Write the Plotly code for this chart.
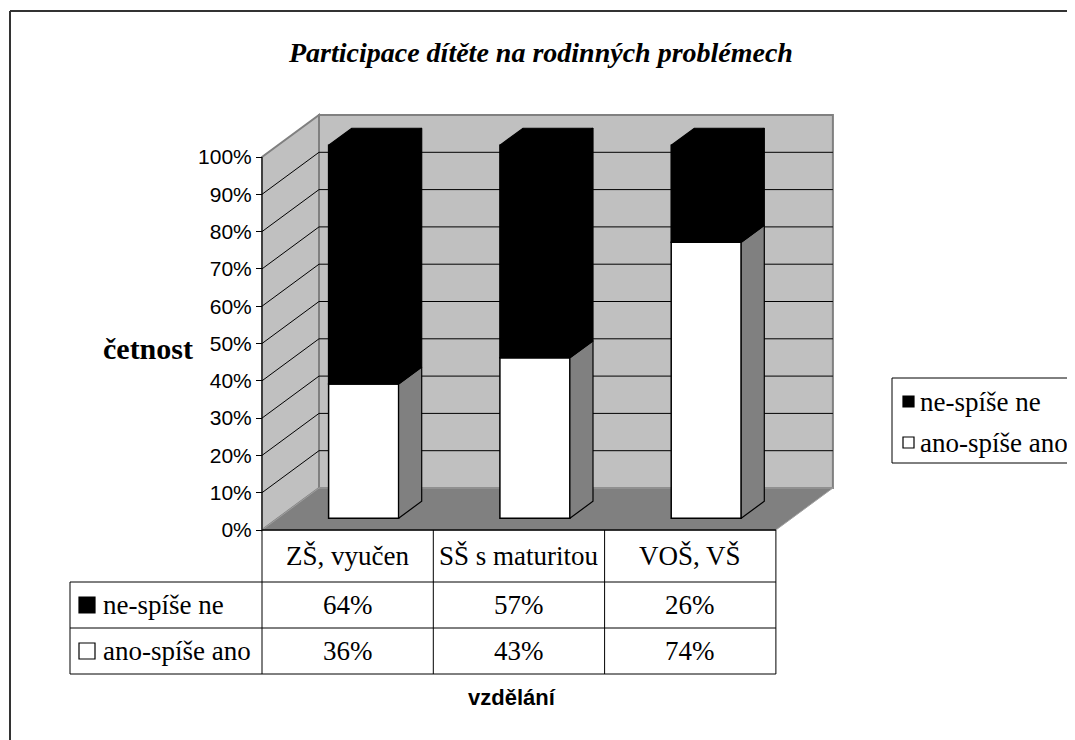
import plotly.graph_objects as go

# data
categories = ["ZŠ, vyučen", "SŠ s maturitou", "VOŠ, VŠ"]
ne_spise_ne = [64, 57, 26]
ano_spise_ano = [36, 43, 74]
series_names = ["ne-spíše ne", "ano-spíše ano"]
series_colors = ["black", "white"]
y_ticks = [0, 10, 20, 30, 40, 50, 60, 70, 80, 90, 100]
y_tick_text = ["0%", "10%", "20%", "30%", "40%", "50%", "60%", "70%", "80%", "90%", "100%"]

W, H = 1075, 740
OFF = 8  # the page body margin shifts the figure by 8px

# pixel frame of the front plane (0 % line, category width), in screenshot pixels
X0_PX, CAT_PX = 262, 171.3
Y0_PX, PCT_PX = 530, 3.73

x_range = [(OFF - X0_PX) / CAT_PX, (OFF + W - X0_PX) / CAT_PX]
y_range = [(Y0_PX - OFF - H) / PCT_PX, (Y0_PX - OFF) / PCT_PX]


def dx(px):
    return (px - X0_PX) / CAT_PX


def dy(px):
    return (Y0_PX - px) / PCT_PX


def rx(px):
    return (px - OFF) / W


def ry(px):
    return 1 - (px - OFF) / H


# 3D depth of the floor/walls, and where the bars sit in that depth
DX = 57 / CAT_PX
DY = 42 / PCT_PX
F0, F1 = 0.28, 0.685
BAR_W = 70 / CAT_PX
n = len(categories)

SERIF = "Liberation Serif"
SANS = "Liberation Sans"
EDGE = "#808080"

fig = go.Figure()

x_front = [i + 0.5 + F0 * DX for i in range(n)]
base_ano = [F0 * DY] * n
base_ne = [F0 * DY + a for a in ano_spise_ano]

fig.add_trace(go.Bar(
    x=x_front, y=ano_spise_ano, base=base_ano, width=BAR_W,
    marker=dict(color="white", line=dict(color="black", width=1.5)),
    name=series_names[1], hoverinfo="skip",
))
fig.add_trace(go.Bar(
    x=x_front, y=ne_spise_ne, base=base_ne, width=BAR_W,
    marker=dict(color="black", line=dict(color="black", width=1.5)),
    name=series_names[0], hoverinfo="skip",
))

# side and top faces of the bars
ddx = (F1 - F0) * DX
ddy = (F1 - F0) * DY


def face(xs, ys, fill):
    fig.add_trace(go.Scatter(
        x=xs + [xs[0]], y=ys + [ys[0]], mode="lines", fill="toself",
        fillcolor=fill, line=dict(color="black", width=1.2),
        hoverinfo="skip", showlegend=False,
    ))


for i in range(n):
    xl = x_front[i] - BAR_W / 2
    xr = x_front[i] + BAR_W / 2
    b0 = base_ano[i]
    t0 = b0 + ano_spise_ano[i]
    t1 = t0 + ne_spise_ne[i]
    face([xr, xr + ddx, xr + ddx, xr], [b0, b0 + ddy, t0 + ddy, t0], "#808080")
    face([xr, xr + ddx, xr + ddx, xr], [t0, t0 + ddy, t1 + ddy, t1], "black")
    face([xl, xl + ddx, xr + ddx, xr], [t1, t1 + ddy, t1 + ddy, t1], "black")

shapes = []


def path(pts, fill, line_color, width=1):
    d = "M " + " L ".join(f"{x},{y}" for x, y in pts) + " Z"
    shapes.append(dict(type="path", path=d, xref="x", yref="y", layer="below",
                       fillcolor=fill, line=dict(color=line_color, width=width)))


def seg(x0, y0, x1, y1, color="black", width=1, layer="below"):
    shapes.append(dict(type="line", x0=x0, y0=y0, x1=x1, y1=y1, xref="x", yref="y",
                       layer=layer, line=dict(color=color, width=width)))


top = y_ticks[-1]
# walls and floor
path([(DX, DY), (n + DX, DY), (n + DX, top + DY), (DX, top + DY)], "#C0C0C0", EDGE, 2)
path([(0, 0), (DX, DY), (DX, top + DY), (0, top)], "#C0C0C0", EDGE, 2)
path([(0, 0), (n, 0), (n + DX, DY), (DX, DY)], "#808080", "#A0A0A0", 1)

# gridlines on the back and side walls
for v in y_ticks[1:-1]:
    seg(DX, v + DY, n + DX, v + DY)
    seg(0, v, DX, v + DY)

# front value axis line
seg(0, 0, 0, top, "black", 1)

# data table
rows_px = [530, 582, 628, 674]
left_px = 70
seg(0, dy(rows_px[0]), n, dy(rows_px[0]), "black", 1.5, layer="above")
for r in rows_px[1:]:
    seg(dx(left_px), dy(r), n, dy(r), "black", 1, layer="above")
for c in range(n + 1):
    seg(c, dy(rows_px[0]), c, dy(rows_px[-1]), "black", 1, layer="above")
seg(dx(left_px), dy(rows_px[1]), dx(left_px), dy(rows_px[-1]), "black", 1, layer="above")

# legend box
shapes.append(dict(type="rect", xref="paper", yref="paper",
                   x0=rx(892), x1=1.05, y0=ry(463), y1=ry(378),
                   line=dict(color="black", width=1), fillcolor="white"))

# chart border
shapes.append(dict(type="line", xref="paper", yref="paper", x0=rx(10), x1=1.02,
                   y0=ry(11), y1=ry(11), line=dict(color="#333333", width=2)))
shapes.append(dict(type="line", xref="paper", yref="paper", x0=rx(10), x1=rx(10),
                   y0=ry(11), y1=-0.02, line=dict(color="#333333", width=2)))


def key_box(x_px, y_px, size, color):
    shapes.append(dict(type="rect", xref="paper", yref="paper",
                       x0=rx(x_px), x1=rx(x_px + size), y0=ry(y_px + size), y1=ry(y_px),
                       fillcolor=color, line=dict(color="black", width=1.2)))


annotations = []
cell_font = dict(family=SERIF, size=27, color="black")
row_mid = [(rows_px[k] + rows_px[k + 1]) / 2 for k in range(3)]
for i, cat in enumerate(categories):
    annotations.append(dict(x=i + 0.5, y=dy(row_mid[0]), text=cat))
    annotations.append(dict(x=i + 0.5, y=dy(row_mid[1]), text=f"{ne_spise_ne[i]}%"))
    annotations.append(dict(x=i + 0.5, y=dy(row_mid[2]), text=f"{ano_spise_ano[i]}%"))
for a in annotations:
    a.update(xref="x", yref="y", showarrow=False, font=cell_font,
             xanchor="center", yanchor="middle")

# series keys in the table and in the legend
legend_y = [402, 443]
for k, name in enumerate(series_names):
    key_box(79, row_mid[k + 1] - 8, 16, series_colors[k])
    annotations.append(dict(x=dx(101), y=dy(row_mid[k + 1]), xref="x", yref="y",
                            text=name, xanchor="left", yanchor="middle",
                            showarrow=False, font=cell_font))
    key_box(903, legend_y[k] - 6, 11, series_colors[k])
    annotations.append(dict(x=rx(918), y=ry(legend_y[k]), xref="paper", yref="paper",
                            text=name, xanchor="left", yanchor="middle",
                            showarrow=False, font=cell_font))

annotations.append(dict(x=rx(540), y=ry(52), xref="paper", yref="paper",
                        text="<b><i>Participace dítěte na rodinných problémech</i></b>",
                        xanchor="center", yanchor="middle", showarrow=False,
                        font=dict(family=SERIF, size=28, color="black")))
annotations.append(dict(x=rx(148), y=ry(348), xref="paper", yref="paper",
                        text="<b>četnost</b>", xanchor="center", yanchor="middle",
                        showarrow=False, font=dict(family=SERIF, size=30, color="black")))
annotations.append(dict(x=rx(512), y=ry(697), xref="paper", yref="paper",
                        text="<b>vzdělání</b>", xanchor="center", yanchor="middle",
                        showarrow=False, font=dict(family=SANS, size=22, color="black")))

fig.update_layout(
    width=W, height=H,
    margin=dict(l=0, r=0, t=0, b=0, autoexpand=False),
    paper_bgcolor="white", plot_bgcolor="white",
    barmode="overlay", showlegend=False,
    xaxis=dict(range=x_range, visible=False, fixedrange=True),
    yaxis=dict(range=y_range, anchor="free", position=rx(X0_PX), side="left",
               tickvals=y_ticks, ticktext=y_tick_text, ticks="outside", ticklen=6,
               tickcolor="black", tickwidth=1, showgrid=False, zeroline=False,
               showline=False, tickfont=dict(family=SANS, size=21, color="black"),
               fixedrange=True),
    shapes=shapes, annotations=annotations,
)

fig.write_html("out.html")
